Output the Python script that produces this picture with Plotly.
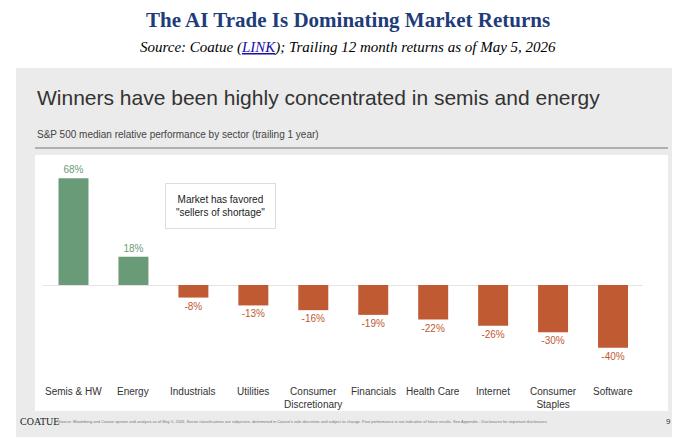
import plotly.graph_objects as go

sectors = ["Semis & HW", "Energy", "Industrials", "Utilities", "Consumer<br>Discretionary",
           "Financials", "Health Care", "Internet", "Consumer<br>Staples", "Software"]
returns = [68, 18, -8, -13, -16, -19, -22, -26, -30, -40]

W, H = 680, 443
def px_x(v): return v / W
def px_y(v): return 1 - (v - 8) / H  # small correction for render offset

green, red = "#6a9b78", "#bf5a33"
colors = [green if r > 0 else red for r in returns]

fig = go.Figure(go.Bar(
    x=sectors, y=returns, width=0.5, marker_color=colors, marker_line_width=0,
    text=[f"{r}%" for r in returns], textposition="outside", cliponaxis=False,
    textfont=dict(color=colors, size=10, family="Arial"),
))

# background panel, inner white area, divider
fig.add_shape(type="rect", xref="paper", yref="paper", x0=px_x(8), x1=px_x(672),
              y0=px_y(437), y1=px_y(68), fillcolor="#ebebeb", line_width=0, layer="below")
fig.add_shape(type="rect", xref="paper", yref="paper", x0=px_x(27), x1=px_x(660),
              y0=px_y(411), y1=px_y(155), fillcolor="white", line_width=0, layer="below")
fig.add_shape(type="line", xref="paper", yref="paper", x0=px_x(27), x1=px_x(660),
              y0=px_y(148), y1=px_y(148), line=dict(color="#777", width=1))

ann = [
    dict(x=0.5, y=px_y(20), text="<b>The AI Trade Is Dominating Market Returns</b>",
         font=dict(family="Liberation Serif", size=21, color="#1f3c7a")),
    dict(x=0.5, y=px_y(48),
         text="<i>Source: Coatue (<span style='color:#1a0dab'><u>LINK</u></span>); Trailing 12 month returns as of May 5, 2026</i>",
         font=dict(family="Liberation Serif", size=15, color="black")),
    dict(x=px_x(27), y=px_y(98), xanchor="left", text="Winners have been highly concentrated in semis and energy",
         font=dict(family="Liberation Sans", size=21, color="#333")),
    dict(x=px_x(27), y=px_y(135), xanchor="left", text="S&P 500 median relative performance by sector (trailing 1 year)",
         font=dict(family="Liberation Sans", size=10, color="#444")),
    dict(x=px_x(157), y=px_y(206), text="Market has favored<br>\"sellers of shortage\"",
         font=dict(family="Liberation Sans", size=10, color="#222"), bgcolor="white",
         bordercolor="#ddd", borderwidth=1, borderpad=10),
    dict(x=px_x(10), y=px_y(421), xanchor="left", text="COATUE",
         font=dict(family="Liberation Serif", size=10, color="#222")),
    dict(x=px_x(48), y=px_y(421), xanchor="left",
         text="Source: Bloomberg and Coatue opinion and analysis as of May 5, 2026. Sector classifications are subjective, determined in Coatue's sole discretion and subject to change. Past performance is not indicative of future results. See Appendix - Disclosures for important disclosures.",
         font=dict(family="Liberation Sans", size=4, color="#777")),
    dict(x=px_x(665), y=px_y(421), text="9", font=dict(family="Liberation Sans", size=8, color="#333")),
]
for i, s in enumerate(sectors):
    ann.append(dict(x=s, xref="x", y=px_y(384), yanchor="top", text=s,
                    font=dict(family="Liberation Sans", size=10, color="#333")))
for a in ann:
    a.setdefault("xref", "paper")
    a.setdefault("yref", "paper")
    a.setdefault("showarrow", False)
    a.setdefault("yanchor", "middle")
fig.update_layout(
    annotations=ann, width=W, height=H, margin=dict(l=0, r=0, t=0, b=0),
    paper_bgcolor="white", plot_bgcolor="rgba(0,0,0,0)", showlegend=False,
    xaxis=dict(domain=[px_x(35), px_x(635)], showticklabels=False, showgrid=False),
    yaxis=dict(domain=[px_y(370), px_y(165)], range=[-54.1, 76.4], showticklabels=False,
               showgrid=False, zeroline=True, zerolinecolor="#e4e4e4", zerolinewidth=1),
)
fig.write_html("out.html")
